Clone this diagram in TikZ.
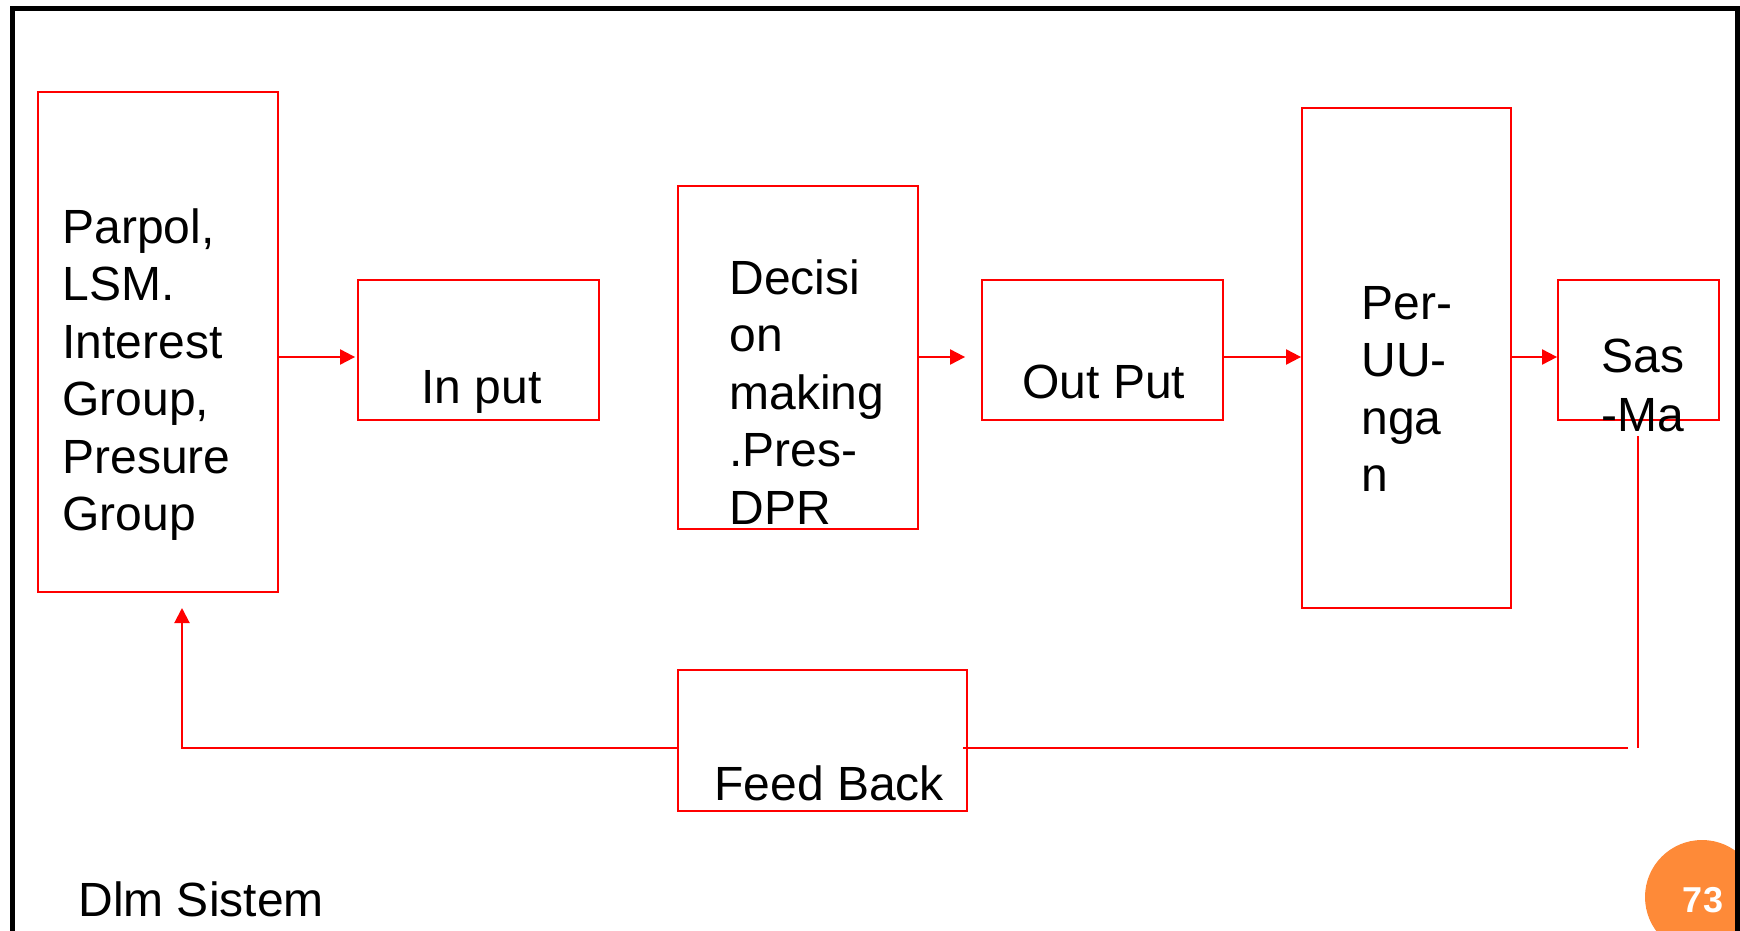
\documentclass[tikz,border=0pt]{standalone}
\usepackage{fontspec}
\setmainfont{Liberation Sans}
\usetikzlibrary{arrows.meta,fit}
\definecolor{badge}{RGB}{254,138,56}
% left-aligned stack of lines whose baseline is the first line
\newcommand\stackrows[1]{\begin{tabular}[t]{@{}l@{}}#1\end{tabular}}

\begin{document}
\begin{tikzpicture}[x=0.5pt,y=-0.5pt,
  box/.style={draw=red, fill=white, line width=0.9pt, inner sep=0pt},
  txt/.style={anchor=base west, inner sep=0pt, text=black,
              font=\fontsize{24pt}{28.75pt}\selectfont},
  link/.style={draw=red, line width=1pt},
  arr/.style={link, -{Triangle[length=7.5pt,width=7.5pt]}},
]
\useasboundingbox (0,0) rectangle (1740,931);
\clip (0,0) rectangle (1740,931);

% page-number badge
\fill[badge] (1702,897) circle[radius=28.5pt];
\node[anchor=base, inner sep=0pt, text=white,
      font=\bfseries\fontsize{18pt}{18pt}\selectfont] (pagenum) at (1703,912) {73};

% slide frame
\draw[line width=2.5pt] (12,1100) -- (12,9) -- (1737,9) -- (1737,1100);

% blocks
\node[box, fit={(38,92) (278,592)}]    (parpol)   {};
\node[box, fit={(358,280) (599,420)}]  (input)    {};
\node[box, fit={(678,186) (918,529)}]  (decision) {};
\node[box, fit={(982,280) (1223,420)}] (output)   {};
\node[box, fit={(1302,108) (1511,608)}] (peruu)   {};
\node[box, fit={(1558,280) (1719,420)}] (sasma)   {};
\node[box, fit={(678,670) (967,811)}]  (feedback) {};

% helper points
\coordinate (row)    at (0,357);
\coordinate (fbrow)  at (0,748);
\coordinate (drop)   at (1638,436);
\coordinate (corner) at (1638,748);
\coordinate (fbend)  at (1628,748);
\coordinate (fbup)   at (182,608);

% forward flow
\draw[arr, shorten >=1pt] (parpol.east |- row) -- (input.west |- row);
\draw[arr, shorten >=8pt] (decision.east |- row) -- (output.west |- row);
\draw[arr] (output.east |- row) -- (peruu.west |- row);
\draw[arr] (peruu.east |- row) -- (sasma.west |- row);

% feedback loop
\draw[link] (drop) -- (corner);
\draw[link, shorten >=-2.5pt] (fbend) -- (feedback.east |- fbrow);
\draw[arr] (feedback.west |- fbrow) -| (fbup);

% texts
\node[txt] (tparpol)   at (62,243)   {\stackrows{Parpol,\\LSM.\\Interest\\Group,\\Presure\\Group}};
\node[txt] (tinput)    at (421,403)  {In put};
\node[txt] (tdecision) at (729,294)  {\stackrows{Decisi\\on\\making\\.Pres-\\DPR}};
\node[txt] (toutput)   at (1022,398) {Out Put};
\node[txt] (tperuu)    at (1361,319) {\stackrows{Per-\\UU-\\nga\\n}};
\node[txt, font=\fontsize{24pt}{29.5pt}\selectfont] (tsasma) at (1601,372) {\stackrows{Sas\\-Ma}};
\node[txt] (tfeedback) at (714,800)  {Feed Back};
\node[txt] (caption)   at (78,916)   {Dlm Sistem};
\end{tikzpicture}
\end{document}
